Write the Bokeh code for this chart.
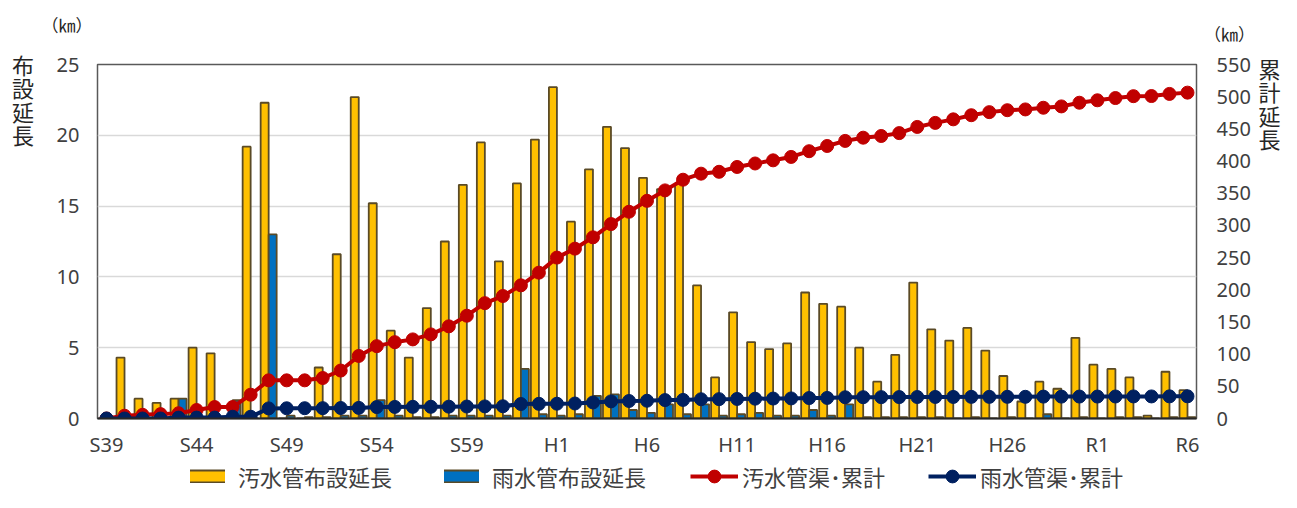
from bokeh.plotting import figure
from bokeh.layouts import column, row
from bokeh.models import (Range1d, LinearAxis, FixedTicker, Legend, LegendItem,
                          ColumnDataSource, Spacer)
from bokeh.transform import dodge
from bokeh.core.properties import value
from bokeh.embed import file_html
from bokeh.resources import INLINE

FONT = "Noto Sans CJK JP"
NUM_FONT = "Noto Sans"

# fiscal years (categories)
years = ["S39", "S40", "S41", "S42", "S43", "S44", "S45", "S46", "S47", "S48",
         "S49", "S50", "S51", "S52", "S53", "S54", "S55", "S56", "S57", "S58",
         "S59", "S60", "S61", "S62", "S63", "H1", "H2", "H3", "H4", "H5",
         "H6", "H7", "H8", "H9", "H10", "H11", "H12", "H13", "H14", "H15",
         "H16", "H17", "H18", "H19", "H20", "H21", "H22", "H23", "H24", "H25",
         "H26", "H27", "H28", "H29", "H30", "R1", "R2", "R3", "R4", "R5", "R6"]

# 汚水管布設延長 (km)
sewage_length = [0.0, 4.3, 1.4, 1.1, 1.4, 5.0, 4.6, 0.0, 19.2, 22.3,
                 0.0, 0.0, 3.6, 11.6, 22.7, 15.2, 6.2, 4.3, 7.8, 12.5,
                 16.5, 19.5, 11.1, 16.6, 19.7, 23.4, 13.9, 17.6, 20.6, 19.1,
                 17.0, 16.2, 16.6, 9.4, 2.9, 7.5, 5.4, 4.9, 5.3, 8.9,
                 8.1, 7.9, 5.0, 2.6, 4.5, 9.6, 6.3, 5.5, 6.4, 4.8,
                 3.0, 1.2, 2.6, 2.1, 5.7, 3.8, 3.5, 2.9, 0.2, 3.3, 2.0]

# 雨水管布設延長 (km)
rain_length = [0.0, 0.0, 0.0, 0.0, 1.4, 0.0, 0.0, 1.3, 0.0, 13.0,
               0.2, 0.1, 0.1, 0.2, 0.2, 1.3, 0.2, 0.1, 0.1, 0.2,
               0.2, 0.2, 0.2, 3.5, 0.3, 0.2, 0.3, 1.6, 1.7, 0.6,
               0.4, 1.0, 0.3, 1.0, 0.2, 0.3, 0.4, 0.2, 0.2, 0.6,
               0.2, 1.0, 0.1, 0.1, 0.1, 0.1, 0.1, 0.0, 0.1, 0.0,
               0.1, 0.0, 0.3, 0.0, 0.1, 0.0, 0.1, 0.1, 0.0, 0.1, 0.1]

# 汚水管渠・累計 (km)
sewage_cumulative = [0.0, 4.3, 5.7, 6.8, 8.2, 13.2, 17.8, 17.8, 37.0, 59.3,
                     59.3, 59.3, 62.9, 74.5, 97.2, 112.4, 118.6, 122.9, 130.7, 143.2,
                     159.7, 179.2, 190.3, 206.9, 226.6, 250.0, 263.9, 281.5, 302.1, 321.2,
                     338.2, 354.4, 371.0, 380.4, 383.3, 390.8, 396.2, 401.1, 406.4, 415.3,
                     423.4, 431.3, 436.3, 438.9, 443.4, 453.0, 459.3, 464.8, 471.2, 476.0,
                     479.0, 480.2, 482.8, 484.9, 490.6, 494.4, 497.9, 500.8, 501.0, 504.3, 506.3]

# 雨水管渠・累計 (km)
rain_cumulative = [0.0, 0.0, 0.0, 0.0, 1.4, 1.4, 1.4, 2.7, 2.7, 15.7,
                   15.9, 16.0, 16.1, 16.3, 16.5, 17.8, 18.0, 18.1, 18.2, 18.4,
                   18.6, 18.8, 19.0, 22.5, 22.8, 23.0, 23.3, 24.9, 26.6, 27.2,
                   27.6, 28.6, 28.9, 29.9, 30.1, 30.4, 30.8, 31.0, 31.2, 31.8,
                   32.0, 33.0, 33.1, 33.2, 33.3, 33.4, 33.5, 33.5, 33.6, 33.6,
                   33.7, 33.7, 34.0, 34.0, 34.1, 34.1, 34.2, 34.3, 34.3, 34.4, 34.5]

left_ticks = [0, 5, 10, 15, 20, 25]
right_ticks = [0, 50, 100, 150, 200, 250, 300, 350, 400, 450, 500, 550]
label_every = 5

series_names = ["汚水管布設延長", "雨水管布設延長", "汚水管渠･累計", "雨水管渠･累計"]
left_title = "布設延長"
right_title = "累計延長"
unit_text = "（㎞）"

YELLOW, BLUE, RED, NAVY = "#FFC000", "#0070C0", "#C00000", "#002060"
EDGE = "#5a4a26"
TICK_COLOR = "#404040"
TITLE_COLOR = "#262626"

x = list(range(len(years)))
tick_positions = x[::label_every]

src = ColumnDataSource(dict(x=x, sewage=sewage_length, rain=rain_length,
                            sc=sewage_cumulative, rc=rain_cumulative))

# ---------- layout geometry (pixels) ----------
TOTAL_W, TOTAL_H = 1281, 492
FRAME_L, FRAME_R, FRAME_T, FRAME_B = 97, 1196, 64, 420
TOP_H = 46
LEFT_W = 40
RIGHT_W = 26
LEG_H = 32
MID_W = TOTAL_W - LEFT_W - RIGHT_W
SIDE_H = TOTAL_H - LEG_H
MAIN_H = SIDE_H - TOP_H
UNIT_L_W = FRAME_L - LEFT_W
UNIT_R_W = (TOTAL_W - RIGHT_W) - FRAME_R


def text_panel(w, h):
    f = figure(width=w, height=h, output_backend="svg", toolbar_location=None,
               x_range=Range1d(0, w), y_range=Range1d(h, 0),
               x_axis_location=None, y_axis_location=None, min_border=0,
               background_fill_color="white", border_fill_color="white")
    f.title.visible = False
    f.outline_line_color = None
    f.grid.visible = False
    return f


# ---------- main chart ----------
p = figure(width=MID_W, height=MAIN_H, output_backend="svg", toolbar_location=None,
           x_range=Range1d(-0.5, len(years) - 0.5),
           y_range=Range1d(left_ticks[0], left_ticks[-1]),
           min_border_left=FRAME_L - LEFT_W, min_border_right=UNIT_R_W,
           min_border_top=FRAME_T - TOP_H, min_border_bottom=MAIN_H - (FRAME_B - TOP_H),
           background_fill_color="white", border_fill_color="white")
p.extra_y_ranges = {"cum": Range1d(right_ticks[0], right_ticks[-1])}
p.outline_line_color = "#595959"
p.outline_line_width = 1.5

bar_w = 0.444
p.vbar(x=dodge("x", -bar_w / 2), top="sewage", width=bar_w, source=src,
       fill_color=YELLOW, line_color=EDGE, line_width=1.8)
p.vbar(x=dodge("x", bar_w / 2), top="rain", width=bar_w, source=src,
       fill_color=BLUE, line_color=EDGE, line_width=1.8)
p.line("x", "sc", source=src, y_range_name="cum", line_color=RED, line_width=4)
p.scatter("x", "sc", source=src, y_range_name="cum", size=13, fill_color=RED, line_color=RED)
p.line("x", "rc", source=src, y_range_name="cum", line_color=NAVY, line_width=4)
p.scatter("x", "rc", source=src, y_range_name="cum", size=13, fill_color=NAVY, line_color=NAVY)

xa = p.xaxis[0]
xa.ticker = FixedTicker(ticks=tick_positions)
xa.major_label_overrides = {i: years[i] for i in tick_positions}
xa.axis_line_color = "#262626"
xa.axis_line_width = 2
xa.major_tick_line_color = None
xa.minor_tick_line_color = None
xa.major_tick_out = 0
xa.major_tick_in = 0
xa.major_label_standoff = 12
xa.major_label_text_font = NUM_FONT
xa.major_label_text_font_size = "20px"
xa.major_label_text_color = TICK_COLOR

ya = p.yaxis[0]
ya.ticker = FixedTicker(ticks=left_ticks)
ya.axis_line_color = None
ya.major_tick_line_color = None
ya.minor_tick_line_color = None
ya.major_tick_out = 0
ya.major_tick_in = 0
ya.major_label_standoff = 18
ya.major_label_text_font = NUM_FONT
ya.major_label_text_font_size = "20px"
ya.major_label_text_color = TICK_COLOR

ra = LinearAxis(y_range_name="cum", ticker=FixedTicker(ticks=right_ticks))
ra.axis_line_color = None
ra.major_tick_line_color = None
ra.minor_tick_line_color = None
ra.major_tick_out = 0
ra.major_tick_in = 0
ra.major_label_standoff = 20
ra.major_label_text_font = NUM_FONT
ra.major_label_text_font_size = "20px"
ra.major_label_text_color = TICK_COLOR
p.add_layout(ra, "right")

p.xgrid.visible = False
p.ygrid.ticker = FixedTicker(ticks=left_ticks)
p.ygrid.grid_line_color = "#d9d9d9"
p.ygrid.grid_line_width = 1.5

# ---------- unit labels (small panels above each tick-label column) ----------
unit_l = text_panel(UNIT_L_W, TOP_H)
unit_l.text(x=[66.5 - LEFT_W], y=[24], text=[unit_text],
            text_font=value(FONT), text_font_size="17px", text_color=TITLE_COLOR,
            text_align="center", text_baseline="middle")
unit_r = text_panel(UNIT_R_W, TOP_H)
unit_r.text(x=[1229 - FRAME_R], y=[33], text=[unit_text],
            text_font=value(FONT), text_font_size="17px", text_color=TITLE_COLOR,
            text_align="center", text_baseline="middle")
top_strip = row(unit_l, Spacer(width=FRAME_R - FRAME_L, height=TOP_H), unit_r)

# ---------- vertical axis titles (stacked characters) ----------
LINE_H = 0.73
lf = text_panel(LEFT_W, SIDE_H)
lf.text(x=[22.5], y=[98.5], text=["\n".join(left_title)],
        text_font=value(FONT), text_font_size="22px", text_color=TITLE_COLOR,
        text_align="center", text_baseline="middle", text_line_height=LINE_H)

rf = text_panel(RIGHT_W, SIDE_H)
rf.text(x=[14], y=[102.5], text=["\n".join(right_title)],
        text_font=value(FONT), text_font_size="22px", text_color=TITLE_COLOR,
        text_align="center", text_baseline="middle", text_line_height=LINE_H)

# ---------- legend strip (legend proxies lie outside the visible range) ----------
lg = text_panel(TOTAL_W, LEG_H)
OFF = [-1000, -999]
# boxes drawn as two square-capped strokes: dark edge + fill
pe_sew = lg.line(x=OFF, y=OFF, line_color=EDGE, line_width=14, line_cap="square")
pf_sew = lg.line(x=OFF, y=OFF, line_color=YELLOW, line_width=10, line_cap="square")
pe_rain = lg.line(x=OFF, y=OFF, line_color=EDGE, line_width=14, line_cap="square")
pf_rain = lg.line(x=OFF, y=OFF, line_color=BLUE, line_width=10, line_cap="square")
pl_sew = lg.line(x=OFF, y=OFF, line_color=RED, line_width=4)
pm_sew = lg.scatter(x=OFF, y=OFF, size=13, fill_color=RED, line_color=RED)
pl_rain = lg.line(x=OFF, y=OFF, line_color=NAVY, line_width=4)
pm_rain = lg.scatter(x=OFF, y=OFF, size=13, fill_color=NAVY, line_color=NAVY)


def style(leg, gw, gh, standoff, spacing):
    leg.orientation = "horizontal"
    leg.border_line_color = None
    leg.background_fill_alpha = 0
    leg.padding = 0
    leg.margin = 0
    leg.spacing = spacing
    leg.glyph_width = gw
    leg.glyph_height = gh
    leg.label_standoff = standoff
    leg.label_text_font = FONT
    leg.label_text_font_size = "22px"
    leg.label_text_color = TICK_COLOR


leg1 = Legend(items=[LegendItem(label=series_names[0], renderers=[pe_sew, pf_sew]),
                     LegendItem(label=series_names[1], renderers=[pe_rain, pf_rain])],
              location=(190, 0))
style(leg1, 35, 14, 13, 52)
leg2 = Legend(items=[LegendItem(label=series_names[2], renderers=[pl_sew, pm_sew]),
                     LegendItem(label=series_names[3], renderers=[pl_rain, pm_rain])],
              location=(690, 0))
style(leg2, 48, 32, 4, 43)
lg.add_layout(leg1)
lg.add_layout(leg2)

layout = column(row(lf, column(top_strip, p), rf), lg)

open("out.html", "w").write(file_html(layout, INLINE))
